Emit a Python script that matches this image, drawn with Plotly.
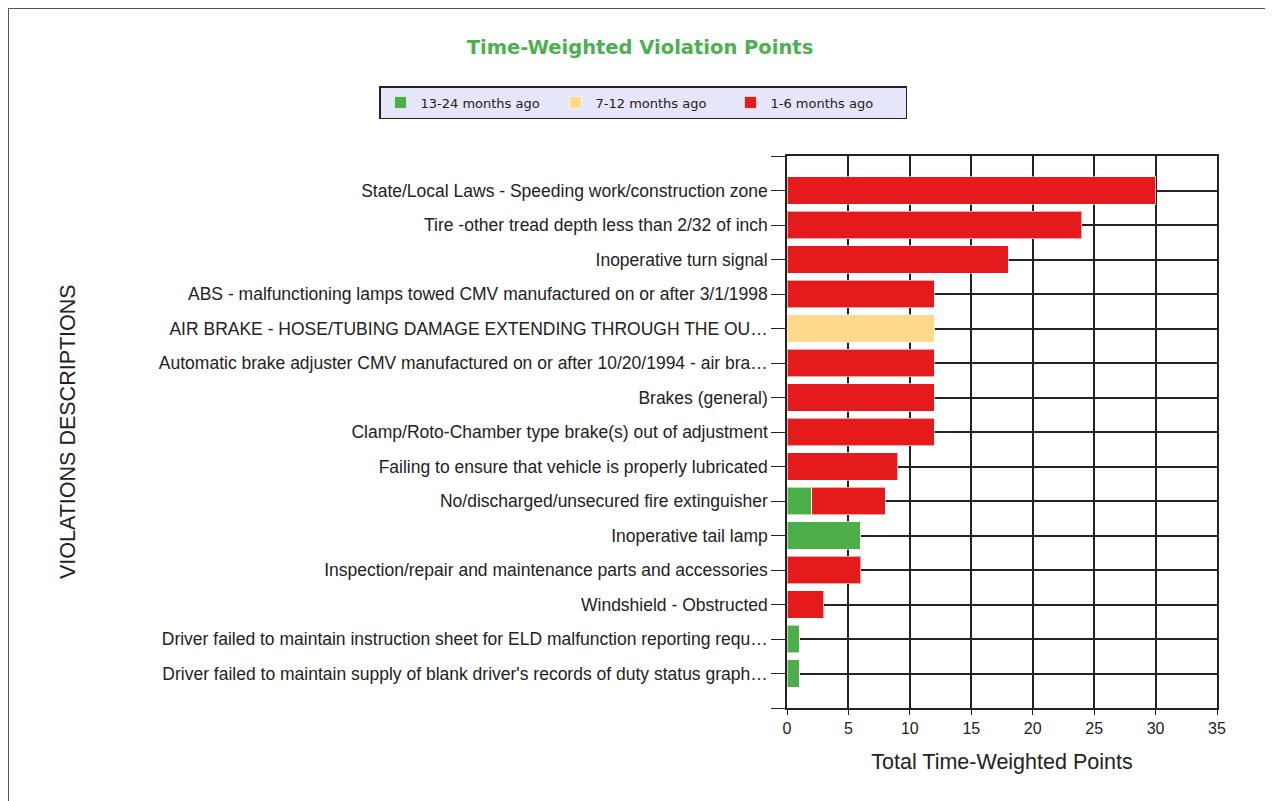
import plotly.graph_objects as go

categories = [
    "State/Local Laws - Speeding work/construction zone",
    "Tire -other tread depth less than 2/32 of inch",
    "Inoperative turn signal",
    "ABS - malfunctioning lamps towed CMV manufactured on or after 3/1/1998",
    "AIR BRAKE - HOSE/TUBING DAMAGE EXTENDING THROUGH THE OU…",
    "Automatic brake adjuster CMV manufactured on or after 10/20/1994 - air bra…",
    "Brakes (general)",
    "Clamp/Roto-Chamber type brake(s) out of adjustment",
    "Failing to ensure that vehicle is properly lubricated",
    "No/discharged/unsecured fire extinguisher",
    "Inoperative tail lamp",
    "Inspection/repair and maintenance parts and accessories",
    "Windshield - Obstructed",
    "Driver failed to maintain instruction sheet for ELD malfunction reporting requ…",
    "Driver failed to maintain supply of blank driver's records of duty status graph…",
]
months_13_24 = [0, 0, 0, 0, 0, 0, 0, 0, 0, 2, 6, 0, 0, 1, 1]
months_7_12 = [0, 0, 0, 0, 12, 0, 0, 0, 0, 0, 0, 0, 0, 0, 0]
months_1_6 = [30, 24, 18, 12, 0, 12, 12, 12, 9, 6, 0, 6, 3, 0, 0]
x_ticks = [0, 5, 10, 15, 20, 25, 30, 35]

positions = list(range(len(categories)))
series = [
    ("13-24 months ago", months_13_24, "#4daf4a"),
    ("7-12 months ago", months_7_12, "#fed98e"),
    ("1-6 months ago", months_1_6, "#e41a1c"),
]

fig = go.Figure()
for name, vals, color in series:
    fig.add_trace(go.Bar(
        name=name, y=positions, x=vals, orientation="h",
        marker=dict(color=color, line=dict(color="rgba(255,255,255,0.6)", width=1)),
        width=0.8,
    ))

tickvals = [-1] + positions + [len(categories)]
ticktext = [""] + categories + [""]

W, H = 1265, 793
L, T, PW, PH = 779, 148, 430, 552

fig.update_layout(
    barmode="stack",
    width=W, height=H,
    margin=dict(l=L, r=W - L - PW, t=T, b=H - T - PH),
    paper_bgcolor="white", plot_bgcolor="white",
    title=dict(
        text="<b>Time-Weighted Violation Points</b>",
        font=dict(family="DejaVu Sans", size=19.5, color="#4caf50"),
        x=632 / W, xanchor="center", xref="container",
        y=1 - 39 / H, yanchor="middle", yref="container",
    ),
    legend=dict(
        orientation="h", traceorder="normal",
        x=(371 - L) / PW, xanchor="left", xref="paper",
        y=1 + (T - 78) / PH, yanchor="top", yref="paper",
        bgcolor="#e6e6fa", bordercolor="#222222", borderwidth=1.5,
        font=dict(family="DejaVu Sans", size=13, color="#222222"),
        itemwidth=30, entrywidth=130,
    ),
    xaxis=dict(
        range=[0, 35], tickvals=x_ticks, showgrid=True, gridcolor="#222222", gridwidth=1.5,
        zeroline=False, showline=True, linecolor="#222222", linewidth=1.5, mirror=True,
        ticks="outside", ticklen=5, tickcolor="#222222",
        tickfont=dict(family="Liberation Sans", size=16, color="#222222"),
        title=dict(text="Total Time-Weighted Points", standoff=18,
                   font=dict(family="Liberation Sans", size=21.5, color="#222222")),
    ),
    yaxis=dict(
        range=[len(categories), -1], tickvals=tickvals, ticktext=ticktext,
        showgrid=True, gridcolor="#222222", gridwidth=1.5,
        zeroline=False, showline=True, linecolor="#222222", linewidth=1.5, mirror=True,
        ticks="outside", ticklen=14, tickcolor="#222222",
        tickfont=dict(family="Liberation Sans", size=17.5, color="#222222"),
    ),
    annotations=[dict(
        text="VIOLATIONS DESCRIPTIONS", textangle=-90,
        xref="paper", yref="paper", x=(60 - L) / PW, y=0.5,
        showarrow=False, xanchor="center", yanchor="middle",
        font=dict(family="Liberation Sans", size=21.5, color="#222222"),
    )],
    shapes=[
        dict(type="line", xref="paper", yref="paper",
             x0=(0 - L) / PW, x1=(W + 10 - L) / PW,
             y0=1 + T / PH, y1=1 + T / PH,
             line=dict(color="#555555", width=2)),
        dict(type="line", xref="paper", yref="paper",
             x0=(0 - L) / PW, x1=(0 - L) / PW,
             y0=1 + T / PH, y1=-(H + 10 - T - PH) / PH,
             line=dict(color="#555555", width=2)),
    ],
)

fig.write_html("out.html")
